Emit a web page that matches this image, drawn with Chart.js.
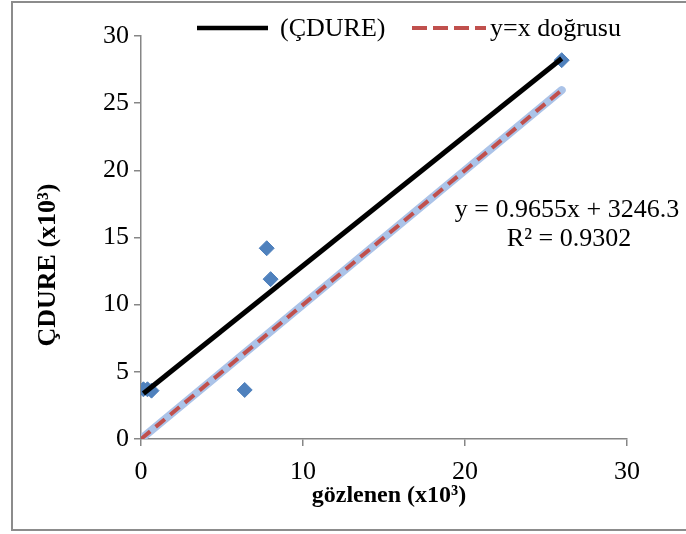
<!DOCTYPE html>
<html>
<head>
<meta charset="utf-8">
<script src="https://cdn.jsdelivr.net/npm/chart.js@4"></script>
<style>
  html, body { margin: 0; padding: 0; background: #fff; }
  #wrap { width: 686px; height: 534px; }
</style>
</head>
<body>
<div id="wrap"><canvas id="chart" width="686" height="534"></canvas></div>
<script>
// observed vs predicted (x10^3)
const observed = [0.15, 0.4, 0.65, 6.4, 7.76, 8.0, 25.97];
const predicted = [3.7, 3.7, 3.6, 3.65, 14.2, 11.9, 28.2];

// linear trendline endpoints (y = 0.9655x + 3246.3)
const trendX = [0.15, 25.97];
const trendY = [3.39, 28.32];

// y = x reference line
const refX = [0, 25.97];
const refY = [0, 25.97];

const xTicks = [0, 10, 20, 30];
const yTicks = [0, 5, 10, 15, 20, 25, 30];

const legendLabels = ['(ÇDURE)', 'y=x doğrusu'];
const eqLines = ['y = 0.9655x + 3246.3', 'R² = 0.9302'];
const xTitle = 'gözlenen (x10³)';
const yTitle = 'ÇDURE (x10³)';

const FONT = "'Liberation Serif', 'Times New Roman', serif";
const AXIS = '#868686';
const RED = '#c0504d';
const BLUE = '#4f81bd';
const LIGHTBLUE = '#abc3e8';

Chart.defaults.font.family = FONT;
Chart.defaults.font.size = 26;
Chart.defaults.color = '#000';

function pts(xs, ys) {
    return xs.map((x, i) => ({ x, y: ys[i] }));
}

// frame, legend, equation and axis titles
const extras = {
    id: 'extras',
    beforeDraw(chart) {
        const ctx = chart.ctx;
        ctx.save();
        ctx.fillStyle = '#fff';
        ctx.fillRect(0, 0, chart.width, chart.height);
        ctx.restore();
    },
    afterDraw(chart) {
        const ctx = chart.ctx;
        ctx.save();

        // outer frame (right edge runs off the canvas)
        ctx.strokeStyle = '#8c8c8c';
        ctx.lineWidth = 2;
        ctx.strokeRect(12, 2, 680, 528);

        // legend
        ctx.lineCap = 'butt';
        ctx.strokeStyle = '#000';
        ctx.lineWidth = 4.5;
        ctx.beginPath();
        ctx.moveTo(197, 28);
        ctx.lineTo(268, 28);
        ctx.stroke();

        ctx.strokeStyle = RED;
        ctx.lineWidth = 4;
        ctx.setLineDash([15, 6]);
        ctx.beginPath();
        ctx.moveTo(412, 28);
        ctx.lineTo(486, 28);
        ctx.stroke();
        ctx.setLineDash([]);

        ctx.fillStyle = '#000';
        ctx.font = '26px ' + FONT;
        ctx.textBaseline = 'middle';
        ctx.textAlign = 'left';
        ctx.fillText(legendLabels[0], 280, 29);
        ctx.fillText(legendLabels[1], 490, 29);

        // regression equation
        ctx.textAlign = 'center';
        ctx.fillText(eqLines[0], 567, 210);
        ctx.fillText(eqLines[1], 569, 239);

        // axis titles
        ctx.font = 'bold 24px ' + FONT;
        ctx.fillText(xTitle, 389, 496);

        ctx.font = 'bold 26px ' + FONT;
        ctx.translate(48, 265);
        ctx.rotate(-Math.PI / 2);
        ctx.fillText(yTitle, 0, 0);

        ctx.restore();
    }
};

new Chart(document.getElementById('chart'), {
    type: 'scatter',
    data: {
        datasets: [
            {
                label: legendLabels[0],
                data: pts(trendX, trendY),
                showLine: true,
                borderColor: '#000',
                borderWidth: 5,
                pointRadius: 0
            },
            {
                label: 'gözlenen',
                data: pts(observed, predicted),
                pointStyle: 'rectRot',
                pointRadius: 7.5,
                backgroundColor: BLUE,
                borderColor: BLUE,
                borderWidth: 1
            },
            {
                label: legendLabels[1],
                data: pts(refX, refY),
                showLine: true,
                borderColor: RED,
                borderWidth: 4,
                borderDash: [12, 7],
                pointRadius: 0
            },
            {
                label: 'y=x',
                data: pts(refX, refY),
                showLine: true,
                borderColor: LIGHTBLUE,
                borderWidth: 8,
                borderCapStyle: 'round',
                pointRadius: 0
            }
        ]
    },
    options: {
        responsive: false,
        animation: false,
        layout: { padding: { left: 0, right: 59, top: 36, bottom: 0 } },
        plugins: {
            legend: { display: false },
            tooltip: { enabled: false }
        },
        scales: {
            x: {
                type: 'linear',
                min: 0,
                max: 30,
                afterFit: s => { s.height = 95; },
                afterBuildTicks: s => { s.ticks = xTicks.map(v => ({ value: v })); },
                grid: { drawOnChartArea: false, drawTicks: true, tickLength: 7, color: AXIS, lineWidth: 1.5 },
                border: { color: AXIS, width: 1.5 },
                ticks: { padding: 11, color: '#000' }
            },
            y: {
                type: 'linear',
                min: 0,
                max: 30,
                afterFit: s => { s.width = 141; },
                afterBuildTicks: s => { s.ticks = yTicks.map(v => ({ value: v })); },
                grid: { drawOnChartArea: false, drawTicks: true, tickLength: 7, color: AXIS, lineWidth: 1.5 },
                border: { color: AXIS, width: 1.5 },
                ticks: { padding: 5, color: '#000' }
            }
        }
    },
    plugins: [extras]
});
</script>
</body>
</html>
